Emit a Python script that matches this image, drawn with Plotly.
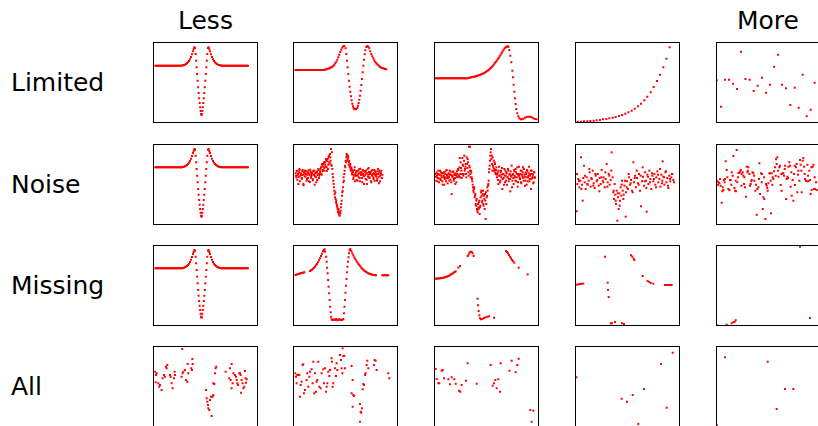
import plotly.graph_objects as go

# ---------------- labels ----------------
row_labels = ["Limited", "Noise", "Missing", "All"]
col_titles = {0: "Less", 4: "More"}

# ---------------- data (arbitrary units) ----------------
# Column "Less": the full, clean curve (shared by the first three rows)
base_x = list(range(2, 81, 3)) + [83, 86, 89, 92, 95, 98, 101, 104, 107, 110, 113, 116, 118, 120, 122,
          124, 125.5, 127, 128.5, 130, 131.5, 133, 134.5, 136, 137.5, 139, 140.5, 141.5,
          142.5, 144, 145.5, 147, 148.5, 150, 151.5, 153, 154.5, 156, 157.5, 159,
          161, 163, 165, 167, 170, 173, 176, 179, 182, 185, 188, 191, 194, 197, 200] + list(range(203, 282, 3))
base_y = [170] * 27 + [170.5, 171, 172, 173, 175, 177, 180, 184, 189, 196, 204, 213, 219, 225, 223,
          205, 185, 165, 145, 125, 105, 88, 72, 58, 45, 34, 25, 22,
          25, 34, 45, 58, 72, 88, 105, 125, 145, 165, 185, 205,
          223, 225, 219, 213, 204, 196, 189, 184, 180, 177, 175, 173, 172, 171, 170.5] + [170] * 27

# Limited
lim2_x = list(range(3, 88, 3)) + [90, 93, 96, 99, 102, 105, 108, 111, 114, 117, 120, 123, 126, 129, 132, 135, 138,
          141, 144, 147, 150, 154, 156, 158, 160, 162, 164, 166, 168, 170, 172, 174, 176, 178, 180, 183,
          186, 189, 191, 193, 195, 197, 199, 201, 203, 205, 207, 209, 211, 213, 216, 219, 222, 225, 228,
          231, 234, 237, 240, 243, 246, 249, 252, 255, 258, 261, 264, 267, 270, 273, 276]
lim2_y = [157] * 29 + [157.5, 158, 159, 160, 161, 162, 164, 165, 167, 170, 173, 177, 182, 188, 195, 203, 211,
          218, 224, 228, 229, 222, 205, 185, 165, 145, 125, 107, 92, 78, 66, 56, 48, 43, 40, 39,
          40, 44, 50, 58, 68, 80, 95, 112, 130, 150, 170, 188, 204, 216, 226, 229, 227, 222, 213,
          205, 198, 192, 186, 181, 177, 174, 171, 168, 166, 164, 163, 162, 161, 160, 159]
lim3_x = list(range(2, 99, 3)) + [101, 104, 107, 110, 113, 116, 119, 122, 125, 128, 131, 134, 137, 140, 143, 146,
          149, 152, 155, 158, 161, 164, 167, 170, 173, 176, 179, 182, 185, 188, 191, 194, 197, 200, 203,
          206, 209, 212, 215, 218, 220, 223, 226, 229, 232, 234, 236, 238, 240, 242, 244, 247, 250, 253,
          257, 261, 265, 270, 275, 280, 285, 290, 295, 300, 305]
lim3_y = [132] * 33 + [133, 134, 135, 135, 136, 137, 137, 138, 139, 140, 141, 142, 143, 145, 146, 147,
          149, 151, 153, 155, 157, 160, 163, 166, 169, 173, 177, 181, 185, 189, 193, 198, 203, 208, 213,
          218, 222, 225, 227, 228, 227, 217, 200, 180, 155, 135, 113, 92, 72, 55, 40, 27, 18, 12,
          9, 9, 11, 14, 16, 17, 17, 15, 12, 10, 9]
lim4_x = [5, 15, 24, 34, 43, 53, 62, 72, 81, 91, 100, 110, 119, 129, 138, 148, 157, 167, 176, 186,
          195, 205, 214, 224, 233, 243, 252, 262, 271, 281]
lim4_y = [2, 2, 3, 3, 4, 5, 6, 7, 9, 10, 12, 14, 16, 19, 22, 26, 30, 35, 41, 48,
          56, 66, 77, 90, 106, 124, 143, 165, 191, 225]
lim5_x = [0, 13, 25, 37, 49, 61, 73, 86, 99, 111, 123, 136, 148, 160, 172, 184, 196, 208, 221, 234,
          246, 258, 270, 282, 294]
lim5_y = [126, 47, 128, 128, 116, 100, 212, 130, 128, 94, 110, 134, 89, 113, 167, 203, 113, 102, 52, 104,
          44, 143, 18, 38, 119]

# Noise
noi2_y = [152, 140, 158, 147, 120, 155, 162, 145, 150, 138, 158, 148, 116, 153, 160, 142, 149, 135, 157, 152,
          128, 146, 163, 139, 150, 155, 131, 148, 160, 143, 153, 125, 157, 146, 165, 138, 150,
          158, 170, 148, 175, 162, 180, 168, 185, 172, 190, 160, 195, 178, 205, 182, 200, 225, 175,
          165, 140, 120, 100, 80, 75, 70, 55, 45, 40, 30, 25, 32,
          50, 70, 95, 110, 140, 150, 175, 190, 200, 205, 195, 200, 185, 170, 180, 160,
          165, 148, 156, 140, 162, 128, 150, 158, 145, 130, 160, 152, 138, 166, 147, 155, 125, 150, 160, 143,
          158, 135, 152, 120, 164, 148, 156, 140, 153, 128, 160, 145, 150, 135, 162, 148, 155, 142, 130, 158,
          150, 122, 160, 145, 152, 138, 148,
          145, 160, 133, 150, 141, 165, 128, 152, 147, 136, 162, 120, 155, 143, 150, 158, 130, 148, 138, 161,
          150, 126, 156, 144, 153, 135, 160, 147, 118, 152, 140, 157, 132, 149, 162, 145, 155,
          165, 150, 180, 158, 172, 185, 160, 178, 195, 170, 188, 165, 200, 185, 210, 190, 178, 215,
          150, 130, 110, 90, 95, 65, 60, 50, 35, 45, 28, 35, 40,
          60, 85, 100, 125, 130, 160, 170, 185, 210, 190, 205, 178, 190, 175, 165, 170,
          152, 160, 135, 148, 170, 145, 155, 132, 158, 148, 140, 165, 128, 155, 150, 138, 162, 145, 120, 156,
          148, 160, 133, 152, 142, 168, 138, 150, 157, 125, 148, 162, 140, 153, 130, 158, 145, 150, 135, 165,
          142, 155, 128, 150, 160, 138]
noi2_x = list(range(4, 265, 2)) + list(range(5, 264, 2))
noi3_y = [150, 130, 145, 138, 160, 125, 148, 135, 155, 140, 128, 152, 145, 118, 140, 158, 137, 147, 122, 150,
          142, 160, 133, 148, 90, 143, 155, 130, 147, 138, 152, 125,
          158, 140, 162, 145, 198, 150, 168, 138, 198, 175, 150, 205, 165, 180, 140, 180, 195, 155, 232, 170,
          150, 160, 140,
          128, 110, 95, 110, 85, 60, 70, 45, 35, 50, 65, 30, 55, 95, 85, 70, 100, 55, 75, 90, 15, 60, 85, 100, 120,
          155, 175, 205, 225, 205, 160, 175, 190, 165, 180, 150, 170,
          140, 155, 120, 172, 145, 130, 160, 148, 105, 150, 138, 165, 125, 145, 155, 118, 140, 160, 135, 150,
          98, 145, 175, 130, 148, 120, 158, 140, 165, 128, 150, 112, 145, 172, 138, 150, 125, 160, 142, 170,
          130, 148, 115, 155, 140, 162, 128, 145, 172, 135, 150, 105, 160, 138, 148, 125, 155, 140,
          142, 155, 128, 150, 137, 148, 160, 132, 145, 152, 118, 140, 155, 135, 150, 128, 162, 143, 138, 152,
          130, 148, 157, 125, 145, 140, 158, 135, 150, 120, 147, 142,
          150, 165, 145, 170, 140, 185, 160, 150, 178, 145, 190, 160, 172, 150, 200, 168, 185, 145, 175, 160,
          140, 155, 135,
          118, 100, 105, 80, 90, 55, 75, 40, 60, 45, 70, 50, 80, 100, 65, 90, 60, 85, 45, 70, 95, 80, 110, 115, 130,
          165, 190, 215, 195, 180, 200, 170, 160, 185, 155, 162, 148,
          150, 132, 160, 145, 125, 155, 140, 168, 135, 150, 118, 145, 160, 130, 152, 140, 165, 128, 148, 135,
          158, 142, 110, 150, 138, 162, 145, 130, 155, 140, 170, 125, 150, 145, 135, 160, 122, 148, 155, 138,
          165, 142, 130, 150, 118, 158, 140, 152, 128, 145, 160, 135, 150, 142, 122, 155, 138,
          232]
noi3_x = list(range(2, 301, 2)) + list(range(3, 300, 2)) + [105]
noi4_x = [2, 4, 7, 10, 13, 15, 18, 20, 22, 24, 26, 29, 32, 35, 38, 41, 44, 47, 50, 53, 56, 59, 62, 65, 68,
          71, 74, 77, 80, 83, 86, 89, 92, 95, 98, 101, 104, 107, 110, 112, 114, 116, 118, 120, 122, 124, 126,
          128, 130, 132, 134, 136, 138, 140, 142, 145, 149, 150, 153, 156, 159, 162, 165, 168, 172, 174, 177,
          180, 183, 186, 189, 192, 195, 198, 201, 204, 207, 210, 212, 214, 217, 220, 223, 226, 229, 232, 235,
          238, 241, 244, 247, 250, 253, 256, 259, 260, 262, 265, 268, 271, 274, 277, 280, 283, 286, 289, 292,
          3, 9, 16, 27, 34, 40, 46, 52, 58, 64, 70, 76, 82, 88, 94, 100, 106, 113, 119, 125, 131, 137, 143,
          147, 152, 158, 164, 170, 176, 182, 188, 194, 200, 206, 211, 216, 222, 228, 234, 240, 246, 252, 258,
          264, 270, 276, 282, 288, 294]
noi4_y = [38, 120, 135, 110, 130, 200, 118, 70, 138, 175, 125, 105, 140, 118, 130, 155, 112, 135, 160, 122,
          108, 145, 128, 150, 115, 138, 120, 162, 130, 140, 110, 135, 180, 125, 150, 118, 132, 215, 140, 95,
          75, 120, 88, 60, 100, 10, 80, 45, 92, 70, 110, 85, 130, 100, 75, 115, 22, 95, 128, 105,
          140, 118, 132, 100, 185, 125, 145, 110, 138, 122, 150, 100, 53, 128, 142, 115, 155, 130, 37, 148,
          120, 160, 135, 105, 145, 128, 150, 118, 140, 158, 125, 135, 112, 148, 130, 188, 142, 118, 155, 125,
          138, 108, 145, 128, 140, 150, 132,
          150, 128, 105, 145, 120, 165, 138, 115, 150, 132, 98, 140, 125, 155, 112, 145, 160, 100, 70, 92,
          55, 118, 88, 130, 110, 150, 122, 95, 138, 160, 118, 145, 170, 128, 108, 142, 125, 152, 135, 110,
          148, 165, 122, 140, 158, 115, 135, 150, 125]
noi5_x = [2, 5, 8, 12, 15, 18, 20, 22, 25, 27, 30, 35, 38, 40, 42, 45, 50, 53, 55, 58, 60, 62, 65, 68, 70,
          72, 75, 78, 80, 83, 85, 88, 90, 92, 95, 98, 100, 102, 105, 107, 110, 113, 116, 120, 122, 125, 128,
          130, 133, 136, 138, 140, 143, 146, 148, 150, 153, 155, 158, 160, 163, 165, 168, 170, 172, 175, 178,
          180, 182, 185, 188, 190, 192, 195, 198, 200, 202, 205, 208, 210, 212, 215, 218, 220, 222, 225, 228,
          230, 232, 235, 238, 240, 242, 245, 248, 250, 252, 255, 258, 260, 262, 265, 268, 270, 272, 275, 278,
          280, 282, 285, 288, 290, 292, 295, 300,
          4, 10, 17, 24, 32, 44, 48, 57, 64, 74, 82, 94, 104, 112, 118, 127, 135, 142, 152, 162,
          167, 177, 184, 194, 204, 214, 224, 234, 244, 254, 264, 274, 284, 294, 298]
noi5_y = [128, 125, 122, 115, 64, 110, 102, 132, 135, 188, 162, 105, 102, 132, 132, 155, 204, 108, 100, 98,
          222, 125, 153, 154, 157, 162, 150, 155, 145, 140, 110, 82, 172, 155, 170, 150, 115, 120, 132, 155,
          152, 130, 100, 28, 105, 110, 182, 90, 152, 150, 45, 80, 75, 15, 120, 115, 100, 122, 152, 152,
          32, 152, 140, 135, 158, 170, 194, 180, 200, 142, 170, 175, 117, 100, 152, 152, 145, 175, 75, 135,
          142, 172, 185, 175, 112, 85, 132, 70, 150, 117, 170, 180, 95, 160, 130, 192, 178, 95, 190, 198,
          172, 135, 130, 128, 178, 128, 160, 132, 90, 102, 172, 178, 105, 105, 102,
          118, 135, 98, 125, 140, 118, 145, 130, 140, 115, 120, 160, 128, 145, 118, 135, 125, 140, 108, 130,
          118, 145, 160, 150, 165, 138, 155, 175, 148, 160, 150, 145, 170, 140, 125]

# Missing
mis2_x = [3, 6, 9, 12, 15, 18, 21, 24, 27, 30, 47, 50, 53, 56, 59, 62, 65, 68, 71, 74, 77, 80, 83, 86, 89, 91,
          92, 95.5, 97, 98.5, 100, 101.5, 103, 104.5, 106, 107.5, 109, 110.5, 112, 114,
          117, 120, 123, 126, 129, 132, 135, 138, 141, 144, 147,
          149, 150.5, 152, 153.5, 155, 156.5, 158, 159.5, 161, 162.5, 164, 166, 168,
          171, 174, 177, 180, 183, 186, 189, 192, 195, 198, 201, 204, 207, 210, 213, 216, 219, 222, 225, 228,
          231, 234, 237, 240, 243, 245, 264, 267, 270, 273, 276, 279, 282]
mis2_y = [150, 151, 152, 153, 154, 155, 156, 157, 157, 158, 162, 164, 166, 169, 172, 175, 179, 183, 188, 194,
          200, 207, 214, 221, 225, 227, 220, 205, 190, 172, 155, 135, 115, 95, 75, 55, 38, 25, 17, 15,
          15, 17, 15, 18, 14, 16, 17, 15, 16, 15, 18,
          35, 55, 75, 97, 118, 138, 158, 175, 190, 203, 215, 224, 228,
          222, 215, 209, 203, 198, 193, 188, 184, 180, 176, 172, 169, 166, 163, 161, 159, 157, 155, 154, 153,
          152, 151, 150, 150, 149, 149, 149, 149, 149, 149, 149, 149, 149]
mis3_x = [2, 5, 8, 11, 14, 17, 20, 23, 26, 29, 32, 35, 38, 41, 44, 47, 50, 53, 56, 59, 62, 70, 75,
          98, 101, 104, 107, 110, 113, 116, 128, 129, 131, 133, 135, 138, 142, 147, 152, 157, 162, 177,
          213, 216, 219, 222, 225, 228, 231, 234, 238, 251, 278]
mis3_y = [139, 139, 139.5, 140, 140, 140.5, 141, 141.5, 142, 143, 144, 145, 146, 147, 149, 151, 153, 155,
          157, 159, 161, 172, 177,
          207, 212, 217, 220, 219, 215, 207, 79, 59, 42, 29, 20, 17, 18, 21, 23, 25, 26, 22,
          222, 219, 215, 210, 205, 200, 195, 191, 187, 172, 152]
mis4_x = [2, 7, 12, 17, 22, 87, 95, 96, 98, 104, 108, 117, 138, 144, 165, 169, 173, 175, 200,
          215, 220, 224, 232, 267, 272, 277, 282, 287]
mis4_y = [121, 122, 123, 124, 124, 205, 127, 105, 84, 5, 5, 9, 5, 3, 209, 205, 199, 195, 147,
          132, 129, 126, 124, 120, 120, 120, 120, 120]
mis5_x = [0, 30, 45, 50, 54, 57, 250, 280]
mis5_y = [1, 1, 5, 8, 10, 14, 235, 21]

# All
all1_x = [84, 2, 5, 7, 4, 12, 15, 17, 22, 25, 29, 32, 35, 37, 39, 47, 49, 52, 55, 59, 62, 61, 82, 85, 87,
          92, 95, 99, 100, 102, 111, 113, 115, 114,
          155, 157, 159, 161, 162, 165, 167, 170, 172, 175, 177, 177, 180, 182, 184, 186,
          214, 227, 232, 225, 229, 232, 235, 237, 242, 245, 247, 249, 251, 255, 257, 259, 260, 262, 265,
          267, 270, 272, 274, 275, 277]
all1_y = [232, 164, 154, 159, 132, 129, 119, 124, 109, 144, 154, 149, 179, 174, 184, 154, 149, 129, 114,
          144, 154, 164, 149, 159, 164, 169, 139, 134, 187, 159, 174, 169, 187, 202,
          109, 84, 74, 64, 54, 49, 79, 89, 31, 89, 94, 129, 127, 159, 174, 179,
          164, 174, 187, 144, 139, 114, 129, 159, 154, 149, 139, 129, 124, 159, 159, 154, 101, 139, 129,
          114, 119, 166, 144, 131, 141]
all2_x = [3, 5, 7, 9, 12, 15, 17, 19, 22, 25, 27, 29, 32, 37, 39, 42, 45, 47, 52, 55, 57, 60, 62, 65, 67,
          69, 72, 75, 79, 82, 87, 89, 92, 95, 97, 99, 102, 105, 107, 112, 113, 115, 117, 122, 125, 127,
          129, 137, 140, 142, 144, 145, 147, 150, 152,
          172, 175, 172, 177, 179, 175, 197, 199, 201, 203, 197, 205, 207, 209, 212, 214, 217, 219, 222,
          239, 241, 244, 247, 282, 285]
all2_y = [159, 149, 129, 154, 155, 154, 89, 124, 134, 184, 186, 99, 109, 139, 159, 119, 149, 164, 171,
          129, 194, 99, 159, 104, 134, 139, 194, 119, 114, 159, 171, 129, 174, 104, 119, 129, 164, 151,
          169, 204, 194, 119, 129, 174, 151, 189, 169, 214, 199, 174, 159, 234, 211, 212, 174,
          181, 139, 99, 94, 91, 59, 67, 44, 41, 54, 14, 111, 127, 124, 154, 159, 184, 197, 174,
          184, 199, 197, 169, 159, 144]
all3_x = [2, 5, 10, 13, 20, 23, 27, 40, 45, 50, 58, 62, 72, 76, 80, 93, 98, 125, 167, 173, 177, 181,
          185, 190, 195, 197, 223, 230, 242, 247, 251, 286, 295, 290]
all3_y = [172, 142, 129, 129, 167, 169, 144, 141, 126, 147, 141, 128, 107, 104, 124, 137, 189, 128,
          184, 122, 129, 139, 114, 141, 104, 189, 167, 197, 162, 184, 203, 49, 47, 14]
all4_x = [1, 137, 153, 170, 204, 187, 255, 272, 290]
all4_y = [147, 83, 74, 94, 112, 7, 187, 56, 221]
all5_x = [25, 153, 205, 230, 180, 0]
all5_y = [207, 194, 112, 112, 52, 4]

panels = [
    [(base_x, base_y), (lim2_x, lim2_y), (lim3_x, lim3_y), (lim4_x, lim4_y), (lim5_x, lim5_y)],
    [(base_x, base_y), (noi2_x, noi2_y), (noi3_x, noi3_y), (noi4_x, noi4_y), (noi5_x, noi5_y)],
    [(base_x, base_y), (mis2_x, mis2_y), (mis3_x, mis3_y), (mis4_x, mis4_y), (mis5_x, mis5_y)],
    [(all1_x, all1_y), (all2_x, all2_y), (all3_x, all3_y), (all4_x, all4_y), (all5_x, all5_y)],
]

# ---------------- layout geometry ----------------
W, H = 818, 426
col_left = [154.3, 294.3, 435.0, 576.0, 716.7]
row_top = [43.3, 145.0, 246.0, 347.3]
box_w, box_h = 103.0, 79.0
X_SPAN, Y_SPAN = 309.0, 237.0
FONT = "DejaVu Sans"

fig = go.Figure()
layout = dict(
    width=W, height=H, margin=dict(l=0, r=0, t=0, b=0),
    paper_bgcolor="white", plot_bgcolor="white", showlegend=False,
)

for r in range(4):
    for c in range(5):
        idx = r * 5 + c + 1
        sfx = "" if idx == 1 else str(idx)
        px, py = panels[r][c]
        n = min(len(px), len(py))
        fig.add_trace(go.Scatter(
            x=px[:n], y=py[:n], mode="markers", xaxis="x" + sfx, yaxis="y" + sfx,
            marker=dict(symbol="square", size=2, color="#ff0000", line=dict(width=0)),
            hoverinfo="skip",
        ))
        left = col_left[c]
        right = min(left + box_w, W)
        top = row_top[r]
        bottom = min(top + box_h, H)
        xr = [0, X_SPAN * (right - left) / box_w]
        yr = [Y_SPAN * (1 - (bottom - top) / box_h), Y_SPAN]
        common = dict(showline=True, linecolor="black", linewidth=1, ticks="",
                      showticklabels=False, showgrid=False, zeroline=False, fixedrange=True)
        xaxis = dict(domain=[left / W, right / W], range=xr, anchor="y" + sfx, **common)
        yaxis = dict(domain=[(H - bottom) / H, (H - top) / H], range=yr, anchor="x" + sfx, **common)
        if r == 3:
            xaxis.update(side="top", mirror=False)
        else:
            xaxis.update(mirror=True)
        if c == 4:
            yaxis.update(mirror=False)
        else:
            yaxis.update(mirror=True)
        layout["xaxis" + sfx] = xaxis
        layout["yaxis" + sfx] = yaxis

annotations = []
for c, t in col_titles.items():
    annotations.append(dict(
        text=t, x=(col_left[c] + box_w / 2) / W, y=1 - 20 / H, xref="paper", yref="paper",
        xanchor="center", yanchor="middle", showarrow=False,
        font=dict(family=FONT, size=25, color="black")))
for r, t in enumerate(row_labels):
    annotations.append(dict(
        text=t, x=9 / W, y=1 - (row_top[r] + box_h / 2) / H, xref="paper", yref="paper",
        xanchor="left", yanchor="middle", showarrow=False,
        font=dict(family=FONT, size=25, color="black")))
layout["annotations"] = annotations

fig.update_layout(**layout)
fig.write_html(
    "out.html",
    config={"displayModeBar": False},
    post_script="document.body.style.margin='0';document.body.style.overflow='hidden';",
)
